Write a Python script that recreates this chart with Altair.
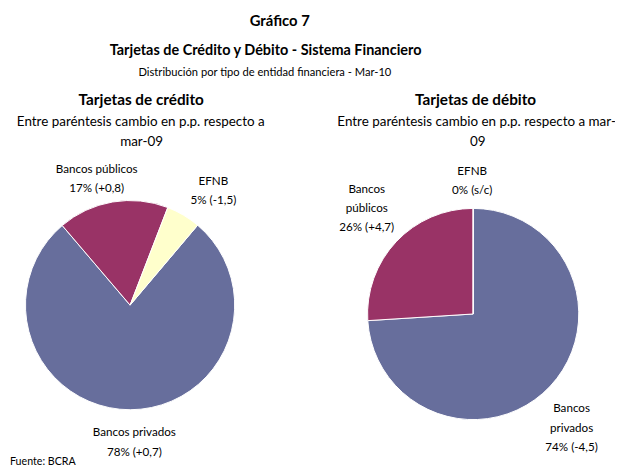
import math
import altair as alt
import pandas as pd

# ---------------- data ----------------
categorias = ["Bancos privados", "Bancos públicos", "EFNB"]
credito_valores = [77.6, 17.1, 5.3]
credito_etiquetas = ["Bancos privados\n78% (+0,7)", "Bancos públicos\n17% (+0,8)", "EFNB\n5% (-1,5)"]
debito_valores = [74.0, 26.0, 0.0]
debito_etiquetas = ["Bancos\nprivados\n74% (-4,5)", "Bancos\npúblicos\n26% (+4,7)", "EFNB\n0% (s/c)"]
colores = ["#676E9C", "#993366", "#FFFFCC"]

titulo = "Gráfico 7"
titulo2 = "Tarjetas de Crédito y Débito - Sistema Financiero"
subtitulo = "Distribución por tipo de entidad financiera - Mar-10"
panel_titulos = ["Tarjetas de crédito", "Tarjetas de débito"]
nota = "Entre paréntesis cambio en p.p. respecto a"
fuente = "Fuente: BCRA"

FONT = "Lato"
W, H = 615, 460
OFF = 8  # page margin (image coords -> chart coords)
LH = 19.5


def frame(vals, labs):
    return pd.DataFrame({
        "cat": categorias,
        "valor": vals,
        "etiqueta": labs,
        "orden": list(range(len(categorias))),
    })


color = alt.Color("cat:N", scale=alt.Scale(domain=categorias, range=colores), legend=None)


def pie(data, cx, cy, r, start_deg, label_layout):
    cx -= OFF
    cy -= OFF
    start = math.radians(start_deg)
    theta_scale = alt.Scale(domain=[0, float(data["valor"].sum())],
                            range=[start, start + 2 * math.pi])
    base = alt.Chart(data)
    arc = base.mark_arc(stroke="white", strokeWidth=1).encode(
        theta=alt.Theta("valor:Q", stack=True, scale=theta_scale),
        color=color,
        order=alt.Order("orden:Q"),
        x=alt.value(cx), y=alt.value(cy), radius=alt.value(r),
    )
    layers = [arc]
    for cat, (rad, dx, dy) in label_layout.items():
        t = (base
             .transform_stack(stack="valor", as_=["v0", "v1"], groupby=[],
                              sort=[alt.SortField("orden")])
             .transform_calculate(mid="(datum.v0 + datum.v1) / 2")
             .transform_filter(alt.datum.cat == cat)
             .mark_text(font=FONT, fontSize=11.8, lineBreak="\n", lineHeight=LH,
                        align="center", baseline="middle", dx=dx, dy=dy, color="black")
             .encode(theta=alt.Theta("mid:Q", scale=theta_scale),
                     text="etiqueta:N",
                     x=alt.value(cx), y=alt.value(cy), radius=alt.value(rad)))
        layers.append(t)
    return alt.layer(*layers)


def txt(s, x, y, size=12, bold=False, align="center", clip=False):
    return alt.Chart(pd.DataFrame({"t": [s]})).mark_text(
        font=FONT, fontSize=size, fontWeight="bold" if bold else "normal",
        align=align, baseline="middle", color="black", clip=clip,
    ).encode(x=alt.value(x - OFF), y=alt.value(y - OFF), text="t:N")


credito = pie(frame(credito_valores, credito_etiquetas), 131.7, 306, 106, 40.2, {
    "Bancos privados": (135, 4, -6),
    "Bancos públicos": (130, -12, -10),
    "EFNB": (142, 12, -3.5),
})
debito = pie(frame(debito_valores, debito_etiquetas), 479.3, 315, 107, 0, {
    "Bancos privados": (145, -6, -3.5),
    "Bancos públicos": (152, 3, -23),
    "EFNB": (136, -1, -9),
})

textos = [
    txt(titulo, 283.3, 18.3, 15, True),
    txt(titulo2, 269, 48.3, 14.6, True),
    txt(subtitulo, 268.3, 71, 11.3),
    txt(panel_titulos[0], 143, 98.3, 15.5, True),
    txt(nota, 142.5, 120.7, 13.6),
    txt("mar-09", 143.3, 141, 13.6),
    txt(panel_titulos[1], 481.7, 98.3, 15.5, True),
    txt(nota + " mar-", 341.7, 120.7, 13.6, align="left", clip=True),
    txt("09", 484, 141, 13.6),
    txt(fuente, 10, 465, 10.8, align="left"),
]

chart = alt.layer(credito, debito, *textos).resolve_scale(theta="independent").properties(
    width=W, height=H, autosize=alt.AutoSizeParams(type="none"), padding=0,
).configure_view(stroke=None)

chart.save("out.html", embed_options={"renderer": "svg", "actions": False})
